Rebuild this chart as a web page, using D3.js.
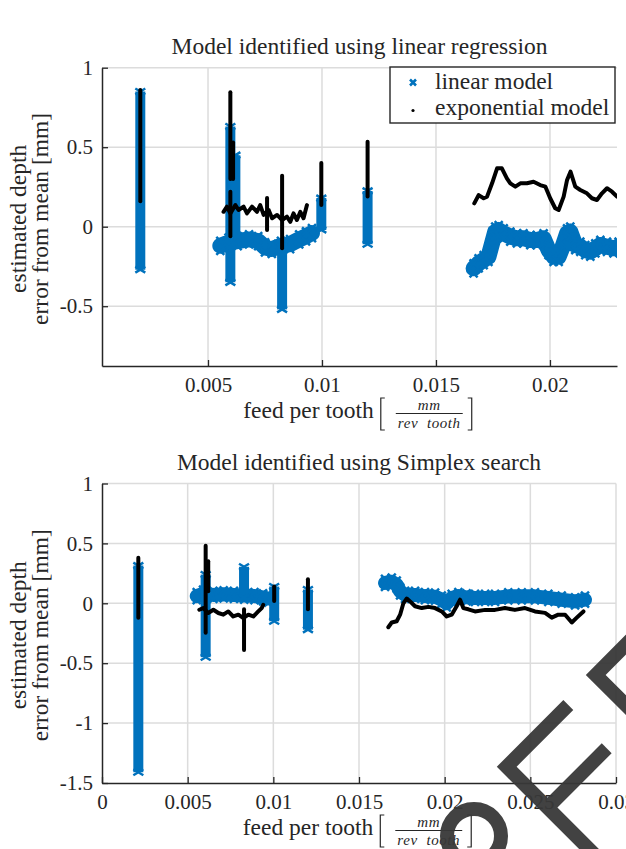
<!DOCTYPE html>
<html>
<head>
<meta charset="utf-8">
<script src="https://cdn.jsdelivr.net/npm/d3@7/dist/d3.min.js"></script>
<style>
body { margin: 0; background: #fff; }
svg text { font-family: "Liberation Serif", "Times New Roman", serif; fill: #262626; }
</style>
</head>
<body>
<svg id="canvas" width="626" height="849"></svg>
<script>
// ---- data ----
const topXTicks = [0.005, 0.01, 0.015, 0.02];
const topYTicks = [1, 0.5, 0, -0.5];
const botXTicks = [0, 0.005, 0.01, 0.015, 0.02, 0.025, 0.03];
const botYTicks = [1, 0.5, 0, -0.5, -1, -1.5];
const legendLabels = ["linear model", "exponential model"];

// linear regression fit: linear model (blue), segments of [feed, error]
const topLinear = [
    [[0.00203, 0.85], [0.00203, -0.27]],
    [[0.00598, 0.63], [0.00598, -0.35]],
    [[0.0062, 0.45], [0.0062, -0.05]],
    [[0.00554, -0.12], [0.0059, -0.10], [0.0063, -0.09], [0.0068, -0.08], [0.0072, -0.09], [0.0075, -0.13],
     [0.0078, -0.14], [0.0082, -0.12], [0.0086, -0.11], [0.0090, -0.08], [0.0093, -0.06], [0.00956, -0.04]],
    [[0.00825, -0.1], [0.00825, -0.52]],
    [[0.00997, 0.18], [0.00997, -0.02]],
    [[0.012, 0.225], [0.012, -0.11]],
    [[0.01665, -0.262], [0.01687, -0.23], [0.01709, -0.21], [0.0173, -0.19], [0.01746, -0.105], [0.0176, -0.031],
     [0.01775, -0.021], [0.01797, -0.042], [0.01826, -0.063], [0.01855, -0.073], [0.01884, -0.073], [0.01914, -0.084],
     [0.01943, -0.084], [0.01972, -0.073], [0.01994, -0.147], [0.02016, -0.189], [0.02038, -0.189], [0.02053, -0.136],
     [0.02075, -0.042], [0.02089, -0.031], [0.02111, -0.115], [0.02133, -0.126], [0.02155, -0.147], [0.02177, -0.157],
     [0.02199, -0.136], [0.02221, -0.115], [0.0225, -0.126], [0.02279, -0.136], [0.02301, -0.126]]
];

// linear regression fit: exponential model (black)
const topExp = [
    [[0.00203, 0.86], [0.00203, 0.16]],
    [[0.00598, 0.845], [0.00598, 0.30]],
    [[0.0061, 0.53], [0.0061, 0.30]],
    [[0.00598, 0.22], [0.00598, -0.06]],
    [[0.00568, 0.094], [0.00583, 0.126], [0.00598, 0.084], [0.0062, 0.136], [0.00634, 0.105], [0.00656, 0.126],
     [0.00671, 0.084], [0.00693, 0.126], [0.00715, 0.094], [0.00729, 0.136], [0.00744, 0.074], [0.00766, 0.105],
     [0.00781, 0.053], [0.00803, 0.074], [0.00825, 0.042], [0.00846, 0.063], [0.00861, 0.031], [0.00875, 0.084],
     [0.0089, 0.042], [0.00905, 0.094], [0.00919, 0.053], [0.00934, 0.136]],
    [[0.00759, 0.18], [0.00759, -0.02]],
    [[0.00825, 0.32], [0.00825, -0.136]],
    [[0.00997, 0.40], [0.00997, 0.136]],
    [[0.012, 0.535], [0.012, 0.19]],
    [[0.01668, 0.147], [0.01687, 0.199], [0.01709, 0.179], [0.01724, 0.189], [0.01746, 0.273], [0.01768, 0.367],
     [0.01789, 0.367], [0.01811, 0.304], [0.01826, 0.273], [0.01848, 0.252], [0.0187, 0.273], [0.01899, 0.273],
     [0.01928, 0.283], [0.01957, 0.262], [0.0198, 0.252], [0.02001, 0.179], [0.02023, 0.116], [0.02038, 0.105],
     [0.0206, 0.189], [0.02075, 0.294], [0.0209, 0.346], [0.02111, 0.252], [0.02133, 0.231], [0.02162, 0.21],
     [0.02184, 0.179], [0.02206, 0.168], [0.02228, 0.21], [0.0225, 0.242], [0.02272, 0.22], [0.02294, 0.189]]
];

// simplex search fit: linear model (blue)
const botLinear = [
    [[0.00212, 0.315], [0.00212, -1.41]],
    [[0.00605, 0.24], [0.00605, -0.45]],
    [[0.00553, 0.06], [0.0059, 0.08], [0.0065, 0.07], [0.0071, 0.075], [0.0077, 0.07], [0.0083, 0.065],
     [0.0089, 0.06], [0.0094, 0.05], [0.0097, 0.04]],
    [[0.00829, 0.305], [0.00829, 0.05]],
    [[0.01005, 0.14], [0.01005, -0.15]],
    [[0.01202, 0.115], [0.01202, -0.22]],
    [[0.01652, 0.17], [0.01691, 0.18], [0.0172, 0.155], [0.0174, 0.10], [0.01769, 0.07], [0.01827, 0.07],
     [0.01885, 0.06], [0.01944, 0.055], [0.01983, 0.03], [0.02012, 0.0], [0.02041, 0.045], [0.0208, 0.06],
     [0.02128, 0.05], [0.02177, 0.045], [0.02236, 0.045], [0.02294, 0.045], [0.02371, 0.058], [0.0245, 0.058],
     [0.02527, 0.058], [0.02605, 0.045], [0.02683, 0.03], [0.02761, 0.016], [0.02819, 0.03]]
];

// simplex search fit: exponential model (black)
const botExp = [
    [[0.00212, 0.38], [0.00212, -0.12]],
    [[0.00605, 0.48], [0.00605, -0.245]],
    [[0.0062, 0.35], [0.0062, 0.1]],
    [[0.00568, -0.054], [0.00591, -0.04], [0.0062, -0.081], [0.0065, -0.054], [0.00679, -0.081], [0.00708, -0.095],
     [0.00737, -0.068], [0.00766, -0.11], [0.00796, -0.095], [0.00825, -0.123], [0.00854, -0.095], [0.00883, -0.11],
     [0.00912, -0.068], [0.00932, -0.04], [0.00941, -0.012]],
    [[0.00829, -0.05], [0.00829, -0.39]],
    [[0.01005, 0.14], [0.01005, 0.02]],
    [[0.01202, 0.2], [0.01202, -0.05]],
    [[0.01671, -0.20], [0.01691, -0.16], [0.0172, -0.15], [0.0174, -0.095], [0.01759, 0.0], [0.01779, 0.04],
     [0.01798, 0.016], [0.01827, -0.025], [0.01866, -0.04], [0.01905, -0.03], [0.01944, -0.04], [0.01983, -0.068],
     [0.02012, -0.11], [0.02041, -0.095], [0.0207, -0.025], [0.0209, 0.03], [0.02109, -0.04], [0.02138, -0.05],
     [0.02177, -0.068], [0.02236, -0.055], [0.02294, -0.055], [0.02352, -0.04], [0.0241, -0.055], [0.02469, -0.04],
     [0.02527, -0.068], [0.02586, -0.08], [0.02625, -0.12], [0.02663, -0.095], [0.02703, -0.095], [0.02742, -0.16],
     [0.02771, -0.12], [0.0281, -0.068]]
];

const svg = d3.select("#canvas");
const FONT = '"Liberation Serif", "Times New Roman", serif';
const AXIS = "#262626";
const BLUE = "#0072bd";

function drawPanel(p) {
    const x = d3.scaleLinear().domain(p.xDomain).range([p.left, p.right]);
    const y = d3.scaleLinear().domain(p.yDomain).range([p.bottom, p.top]);
    const g = svg.append("g");

    // grid
    g.selectAll(".gx").data(p.xTicks.filter(d => x(d) > p.left + 1)).enter().append("line")
        .attr("x1", d => x(d)).attr("x2", d => x(d))
        .attr("y1", p.top).attr("y2", p.bottom)
        .attr("stroke", "#dcdcdc").attr("stroke-width", 1.5);
    g.selectAll(".gy").data(p.yTicks.filter(d => y(d) < p.bottom - 1)).enter().append("line")
        .attr("x1", p.left).attr("x2", p.right)
        .attr("y1", d => y(d)).attr("y2", d => y(d))
        .attr("stroke", "#dcdcdc").attr("stroke-width", 1.5);

    // data
    svg.append("clipPath").attr("id", "clip" + p.id).append("rect")
        .attr("x", p.left).attr("y", p.top)
        .attr("width", p.right - p.left).attr("height", p.bottom - p.top);
    const plot = g.append("g").attr("clip-path", `url(#clip${p.id})`);
    const line = d3.line().x(d => x(d[0])).y(d => y(d[1]));
    const isVertical = seg => seg.every(d => d[0] === seg[0][0]);

    p.linear.forEach(seg => {
        const v = isVertical(seg);
        plot.append("path").attr("d", line(seg))
            .attr("fill", "none").attr("stroke", BLUE)
            .attr("stroke-width", v ? 10 : p.band)
            .attr("stroke-linejoin", "round")
            .attr("stroke-linecap", v ? "butt" : "round");
        if (!v) {
            // x markers at the read points roughen the band edge
            const h = p.band / 2 + 1;
            plot.selectAll(null).data(seg).enter().append("path")
                .attr("d", d => {
                    const cx = x(d[0]), cy = y(d[1]);
                    return `M${cx - 4},${cy - h}L${cx + 4},${cy - h + 8}M${cx + 4},${cy - h}L${cx - 4},${cy - h + 8}` +
                           `M${cx - 4},${cy + h}L${cx + 4},${cy + h - 8}M${cx + 4},${cy + h}L${cx - 4},${cy + h - 8}`;
                })
                .attr("stroke", BLUE).attr("stroke-width", 2.5);
        } else {
            plot.selectAll(null).data([seg[0], seg[seg.length - 1]]).enter().append("path")
                .attr("d", d => {
                    const cx = x(d[0]), cy = y(d[1]);
                    return `M${cx - 5},${cy - 3}L${cx + 5},${cy + 3}M${cx + 5},${cy - 3}L${cx - 5},${cy + 3}`;
                })
                .attr("stroke", BLUE).attr("stroke-width", 2.5);
        }
    });
    p.exp.forEach(seg => {
        plot.append("path").attr("d", line(seg))
            .attr("fill", "none").attr("stroke", "#000")
            .attr("stroke-width", 4)
            .attr("stroke-linejoin", "round")
            .attr("stroke-linecap", "round");
    });

    // axes
    const xAxis = d3.axisBottom(x).tickValues(p.xTicks).tickFormat(d => String(d))
        .tickSizeInner(-6).tickSizeOuter(0).tickPadding(11);
    const yAxis = d3.axisLeft(y).tickValues(p.yTicks).tickFormat(d => String(d))
        .tickSizeInner(-6).tickSizeOuter(0).tickPadding(9);

    [g.append("g").attr("transform", `translate(0,${p.bottom})`).call(xAxis),
     g.append("g").attr("transform", `translate(${p.left},0)`).call(yAxis)]
        .forEach(a => {
            a.attr("font-family", FONT).attr("font-size", 21).attr("color", AXIS);
            a.select(".domain").attr("stroke-width", 1.5);
            a.selectAll(".tick line").attr("stroke-width", 1.3);
            a.selectAll(".tick text").style("font-size", "21px");
        });

    // title
    svg.append("text")
        .attr("x", (p.left + p.right) / 2).attr("y", p.top - 14)
        .attr("text-anchor", "middle").style("font-size", "23.5px")
        .text(p.title);

    // y label
    const cy = (p.top + p.bottom) / 2 + 2;
    [["estimated depth", 26], ["error from mean [mm]", 48]].forEach(([t, bx]) => {
        svg.append("text")
            .attr("transform", `translate(${bx},${cy}) rotate(-90)`)
            .attr("text-anchor", "middle").style("font-size", "23.5px")
            .text(t);
    });

    xLabel((p.left + p.right) / 2 - 2, p.bottom + 52);
    return { x, y };
}

function xLabel(cx, base) {
    const g = svg.append("g");
    const main = g.append("text").attr("y", base).style("font-size", "23.5px").text("feed per tooth");
    const num = g.append("text").attr("y", base - 8).attr("text-anchor", "middle")
        .style("font-size", "15px").style("font-style", "italic").style("letter-spacing", "0.6px").text("mm");
    const den = g.append("text").attr("y", base + 10).attr("text-anchor", "middle")
        .style("font-size", "15px").style("font-style", "italic").style("letter-spacing", "0.6px").text("rev  tooth")
        .attr("xml:space", "preserve");
    const wMain = main.node().getComputedTextLength();
    const wFrac = Math.max(num.node().getComputedTextLength(), den.node().getComputedTextLength()) + 4;
    const total = wMain + 7 + 5 + 10 + wFrac + 4 + 5;
    let x0 = cx - total / 2;
    main.attr("x", x0);
    const b1 = x0 + wMain + 7;
    const fx = b1 + 5 + 10;
    const b2 = fx + wFrac + 4 + 5;
    const top = base - 20, bot = base + 12;
    g.append("path").attr("d", `M${b1 + 4},${top}H${b1}V${bot}H${b1 + 4}`)
        .attr("fill", "none").attr("stroke", AXIS).attr("stroke-width", 1.2);
    g.append("path").attr("d", `M${b2 - 4},${top}H${b2}V${bot}H${b2 - 4}`)
        .attr("fill", "none").attr("stroke", AXIS).attr("stroke-width", 1.2);
    g.append("line").attr("x1", fx).attr("x2", fx + wFrac)
        .attr("y1", base - 4.5).attr("y2", base - 4.5)
        .attr("stroke", AXIS).attr("stroke-width", 1);
    num.attr("x", fx + wFrac / 2);
    den.attr("x", fx + wFrac / 2);
}

drawPanel({
    id: "top", title: "Model identified using linear regression",
    left: 102, right: 617, top: 67.7, bottom: 366,
    xDomain: [0.00035, 0.02294], yDomain: [-0.876, 1],
    xTicks: topXTicks, yTicks: topYTicks, band: 16,
    linear: topLinear, exp: topExp
});

drawPanel({
    id: "bot", title: "Model identified using Simplex search",
    left: 102, right: 616, top: 483.5, bottom: 783,
    xDomain: [0, 0.03], yDomain: [-1.5, 1],
    xTicks: botXTicks, yTicks: botYTicks, band: 14,
    linear: botLinear, exp: botExp
});

// legend (top panel)
const leg = svg.append("g");
leg.append("rect").attr("x", 390).attr("y", 67).attr("width", 225).attr("height", 56)
    .attr("fill", "#fff").attr("stroke", AXIS).attr("stroke-width", 1.4);
leg.append("path").attr("d", "M410,79.5L416,85.5M416,79.5L410,85.5")
    .attr("stroke", BLUE).attr("stroke-width", 2.6);
leg.append("circle").attr("cx", 413).attr("cy", 110.5).attr("r", 1.6).attr("fill", "#000");
legendLabels.forEach((t, i) => {
    leg.append("text").attr("x", 435).attr("y", 88.5 + i * 26.5)
        .style("font-size", "23.5px").text(t);
});

// stamp overlay in the lower right corner
const stamp = svg.append("g").attr("fill", "none").attr("stroke", "#383838")
    .attr("stroke-width", 14).attr("opacity", 0.95);
stamp.append("circle").attr("cx", 474).attr("cy", 836).attr("r", 27);
stamp.append("path").attr("d", "M568.3,705L506.7,766.7L605,865");
stamp.append("path").attr("d", "M606.7,748.3L547.5,807.5");
stamp.append("path").attr("d", "M680,590L595.7,675L690,769");
</script>
</body>
</html>
